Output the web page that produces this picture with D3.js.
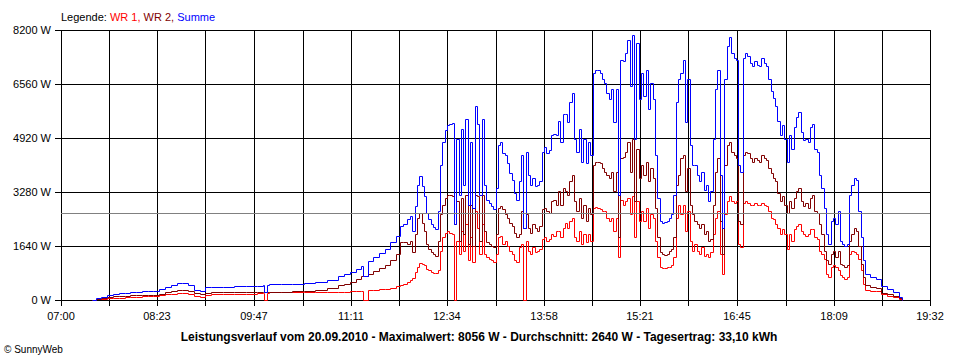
<!DOCTYPE html>
<html><head><meta charset="utf-8">
<script src="https://cdn.jsdelivr.net/npm/d3@7"></script>
<style>
body{margin:0;background:#fff}
svg{display:block}
text{font-family:"Liberation Sans",Arial,sans-serif;font-size:11px}
</style>
</head><body>
<svg id="c" width="960" height="360"></svg>
<script>
const times = [
 "07:27","07:30","07:35","07:40","07:45","07:50","07:55",
 "08:00","08:05","08:10","08:15","08:20","08:25","08:30","08:35","08:40","08:45","08:50","08:55",
 "09:00","09:05","09:10","09:20","09:30","09:40","09:50","09:55","09:56","09:58",
 "10:00","10:10","10:20","10:30","10:40","10:50",
 "11:00","11:05","11:10","11:15","11:20","11:21","11:26","11:30","11:35","11:40","11:45","11:50","11:53","11:56","11:59",
 "12:02","12:04","12:06","12:08","12:10","12:12","12:14","12:16","12:18","12:20","12:22","12:24","12:26","12:28","12:30","12:32","12:34","12:36","12:38","12:40","12:42","12:44","12:46","12:48","12:50","12:52","12:54","12:56","12:58",
 "13:00","13:02","13:04","13:06","13:08","13:10","13:12","13:14","13:16","13:18","13:20","13:22","13:24","13:26","13:28","13:30","13:32","13:34","13:36","13:38","13:40","13:42","13:44","13:46","13:48","13:50","13:52","13:54","13:56","13:58",
 "14:00","14:02","14:04","14:06","14:08","14:10","14:12","14:14","14:16","14:18","14:20","14:22","14:24","14:26","14:28","14:30","14:32","14:34","14:36","14:38","14:40","14:42","14:44","14:46","14:48","14:50","14:52","14:54","14:56","14:58",
 "15:00","15:02","15:04","15:06","15:08","15:10","15:12","15:14","15:16","15:18","15:20","15:22","15:24","15:26","15:28","15:30","15:32","15:34","15:36","15:38","15:40","15:42","15:44","15:46","15:48","15:50","15:52","15:54","15:56","15:58",
 "16:00","16:02","16:04","16:06","16:08","16:10","16:12","16:14","16:16","16:18","16:20","16:22","16:24","16:26","16:28","16:30","16:32","16:34","16:36","16:38","16:40","16:42","16:44","16:46","16:48","16:50","16:52","16:54","16:56","16:58",
 "17:00","17:02","17:04","17:06","17:08","17:10","17:12","17:14","17:16","17:18","17:20","17:22","17:24","17:26","17:28","17:30","17:32","17:34","17:36","17:38","17:40","17:42","17:44","17:46","17:48","17:50","17:52","17:54","17:56","17:58",
 "18:00","18:02","18:04","18:06","18:08","18:10","18:12","18:14","18:16","18:18","18:20","18:22","18:24","18:26","18:28","18:30","18:32","18:34","18:36","18:40","18:45","18:50","18:55",
 "19:00","19:05","19:08"
];
const wr1 = [
 0,20,40,50,60,70,90,
 100,100,110,110,120,140,170,190,210,220,180,110,
 100,160,180,185,190,195,200,200,0,220,
 230,235,240,240,245,248,
 250,255,260,265,270,0,290,300,320,340,370,420,460,500,560,
 620,680,850,1000,1120,1100,1050,950,900,850,830,820,900,1500,1900,2050,2100,2050,2000,0,1800,1400,2100,1500,2300,1200,1900,1150,2700,
 2200,1400,2300,1400,1300,1250,1200,1150,1400,1900,1950,1700,1800,1650,1500,1400,1200,1150,1600,1700,0,1800,1500,1400,1600,1450,1500,1550,1850,1900,
 1800,1850,2000,1950,2100,2100,1900,2200,2350,2200,2400,2500,1900,1800,2100,1700,2000,1750,2000,1800,2800,2830,2800,2750,2700,2700,2500,2400,2500,2100,
 2500,1300,3050,2900,3000,3100,2600,3150,1900,3000,2400,2700,2400,2800,2200,2600,2500,1800,1300,1000,980,980,990,1000,1050,1300,2500,2900,2600,2900,
 2100,2700,1800,1500,1700,1500,1400,1600,1350,1400,1300,1450,2000,2500,2700,1400,800,2600,3000,3150,3000,2950,3000,1700,1600,2950,3000,2950,2900,2900,
 2950,2900,2900,2950,2900,2850,2700,2500,2450,2300,2200,2000,2150,2000,1550,2000,1800,2150,2250,2300,2100,2000,1950,2000,2150,2150,1900,1850,1500,1400,
 1250,800,700,1000,1050,1000,900,750,700,650,700,1400,1500,1450,1400,1250,900,500,300,280,270,180,120,
 90,40,0
];
const wr2 = [
 0,30,60,90,110,120,130,
 140,150,150,150,160,180,230,280,310,300,270,200,
 180,220,230,240,240,245,250,250,250,250,
 250,255,260,270,300,360,
 450,500,560,640,720,730,800,880,960,1050,1200,1400,1750,1750,1700,
 1800,1450,2000,2500,2640,2350,2100,1700,1550,1450,1400,1350,1800,2600,2900,3100,3200,3200,3150,2300,3000,1800,3100,2000,3200,1700,2900,1650,3200,
 3150,1800,3200,2100,1750,1700,1650,1620,2000,2800,2850,2750,2600,2500,2350,2250,2050,1900,2000,2700,2200,2600,2200,2050,2300,2200,2100,2250,2750,2800,
 2700,2650,3000,3050,2900,3300,2900,3400,3300,3200,3600,3800,3000,2700,3100,2500,2900,2400,2800,2600,4100,4190,4200,4150,4000,3900,3800,3700,3900,3300,
 3900,1900,4300,4350,4500,4800,3900,4900,3000,4600,3700,4100,3800,4200,3600,4000,3700,2800,1900,1450,1400,1380,1400,1500,1550,1900,3500,3800,4300,4400,
 3300,4000,2900,2600,2400,2300,2200,2300,2000,2100,1800,1850,2900,3900,4300,2400,1400,4100,4700,4800,4500,4400,4300,2400,2300,4400,4500,4450,4300,4200,
 4300,4250,4200,4400,4300,4250,4000,3850,3700,3600,3250,3000,3150,2900,2650,3000,2800,3100,3300,3400,3000,2850,2950,2800,3100,3200,2700,2650,2300,2000,
 1500,1200,1100,1400,1500,1300,1500,1100,1050,1000,1050,1800,2000,2200,2100,1650,1100,700,450,380,350,220,170,
 130,60,0
];
const summe = [
 0,50,100,150,180,200,220,
 240,250,260,260,280,320,400,470,520,510,450,300,
 280,380,400,410,420,430,440,445,250,470,
 480,490,500,510,560,620,
 720,780,860,940,1040,740,1180,1300,1420,1550,1750,1950,2250,2300,2450,
 2550,2100,2850,3500,3760,3450,3150,2650,2450,2300,2230,2170,2700,4100,4800,5150,5300,5350,5380,2300,4900,3200,5200,3500,5500,2900,4800,2800,5900,
 5350,3200,5500,3500,3050,2950,2850,2770,3400,4700,4800,4450,4400,4150,3850,3650,3250,3050,3600,4400,2200,4500,3800,3500,3700,3450,3500,3600,4500,4650,
 4450,4550,5000,5050,5000,5450,4800,5650,5650,5400,6000,6300,4900,4500,5200,4200,4900,4150,4800,4400,6900,7000,7000,6900,6700,6600,6300,6100,6400,5400,
 6400,3200,7300,7250,7500,7900,6500,8056,4900,7800,6100,6900,6200,7000,5800,6600,6100,4400,3100,2400,2350,2370,2400,2500,2600,3200,6000,6700,6900,7300,
 5400,6700,4700,4100,4100,3800,3600,3900,3350,3500,3000,3300,4900,6400,7000,3800,2200,6700,7700,8000,7500,7350,7300,4100,3900,7350,7500,7400,7200,7100,
 7250,7150,7100,7350,7200,7100,6700,6350,6150,5900,5450,5000,5300,4900,4200,5000,4600,5250,5550,5700,5100,4850,4900,4800,5250,5350,4600,4500,3800,3400,
 2800,2000,1700,2400,2500,2300,2700,1800,1700,1650,1700,3200,3500,3700,3650,2700,1900,1200,800,700,650,420,320,
 230,100,0
];
const xTickLabels = ["07:00","08:23","09:47","11:11","12:34","13:58","15:21","16:45","18:09","19:32"];
const yTicks = [0,1640,3280,4920,6560,8200];
const average = 2640;
const seriesNames = ["WR 1","WR 2","Summe"];
const seriesColors = ["#ff0000","#800000","#0000ff"];
const titleText = "Leistungsverlauf vom 20.09.2010 - Maximalwert: 8056 W - Durchschnitt: 2640 W - Tagesertrag: 33,10 kWh";
const creditText = "\u00a9 SunnyWeb";

const toMin = s => { const p = s.split(":").map(Number); return p[0]*60 + p[1]; };
const tm = times.map(toMin);
const labelMins = xTickLabels.map(toMin);

const x = d3.scaleLinear().domain([labelMins[0], labelMins[labelMins.length-1]]).range([61, 930]);
const y = d3.scaleLinear().domain([0, 8200]).range([300, 30]);
const px = v => Math.round(v) + 0.5;

const svg = d3.select("#c");
svg.append("rect").attr("width",960).attr("height",360).attr("fill","#fff");

const gridX = [];
labelMins.forEach((m,i) => { gridX.push(m); if (i < labelMins.length-1) gridX.push((m + labelMins[i+1]) / 2); });

const grid = svg.append("g").attr("shape-rendering","crispEdges").attr("stroke","#000");
grid.selectAll("line.v").data(gridX).join("line").attr("class","v")
  .attr("x1", d => px(x(d))).attr("x2", d => px(x(d)))
  .attr("y1", y(8200)).attr("y2", y(0) + 6);
grid.selectAll("line.h").data(yTicks).join("line").attr("class","h")
  .attr("x1", 55).attr("x2", 931)
  .attr("y1", d => px(y(d))).attr("y2", d => px(y(d)));

const data = [wr1, wr2, summe];
const line = d3.line().x((d,i) => px(x(tm[i]))).y(d => px(y(d))).curve(d3.curveStepAfter);
svg.append("g").selectAll("path").data(data).join("path")
  .attr("d", d => line(d))
  .attr("fill","none")
  .attr("stroke", (d,i) => seriesColors[i])
  .attr("stroke-width", 1)
  .attr("stroke-linejoin","miter");

svg.append("line")
  .attr("x1", 61).attr("x2", 930)
  .attr("y1", px(y(average))).attr("y2", px(y(average)))
  .attr("stroke","#808080").attr("shape-rendering","crispEdges");

svg.append("g").selectAll("text").data(yTicks).join("text")
  .attr("x", 51).attr("y", d => y(d)).attr("dy","0.35em")
  .attr("text-anchor","end").attr("fill","#000")
  .text(d => d + " W");

svg.append("g").selectAll("text").data(xTickLabels).join("text")
  .attr("x", d => x(toMin(d))).attr("y", 320)
  .attr("text-anchor","middle").attr("fill","#000")
  .text(d => d);

const lg = svg.append("text").attr("x", 61).attr("y", 21);
lg.append("tspan").attr("fill","#000").text("Legende: ");
seriesNames.forEach((n,i) => {
  lg.append("tspan").attr("fill", seriesColors[i]).text(n + (i < seriesNames.length-1 ? ", " : ""));
});

svg.append("text").attr("x", 479).attr("y", 341).attr("text-anchor","middle")
  .attr("font-weight","bold").style("font-size","12px").attr("fill","#000").text(titleText);

svg.append("text").attr("x", 4).attr("y", 353).style("font-size","10px")
  .attr("fill","#000").text(creditText);
</script>
</body></html>
